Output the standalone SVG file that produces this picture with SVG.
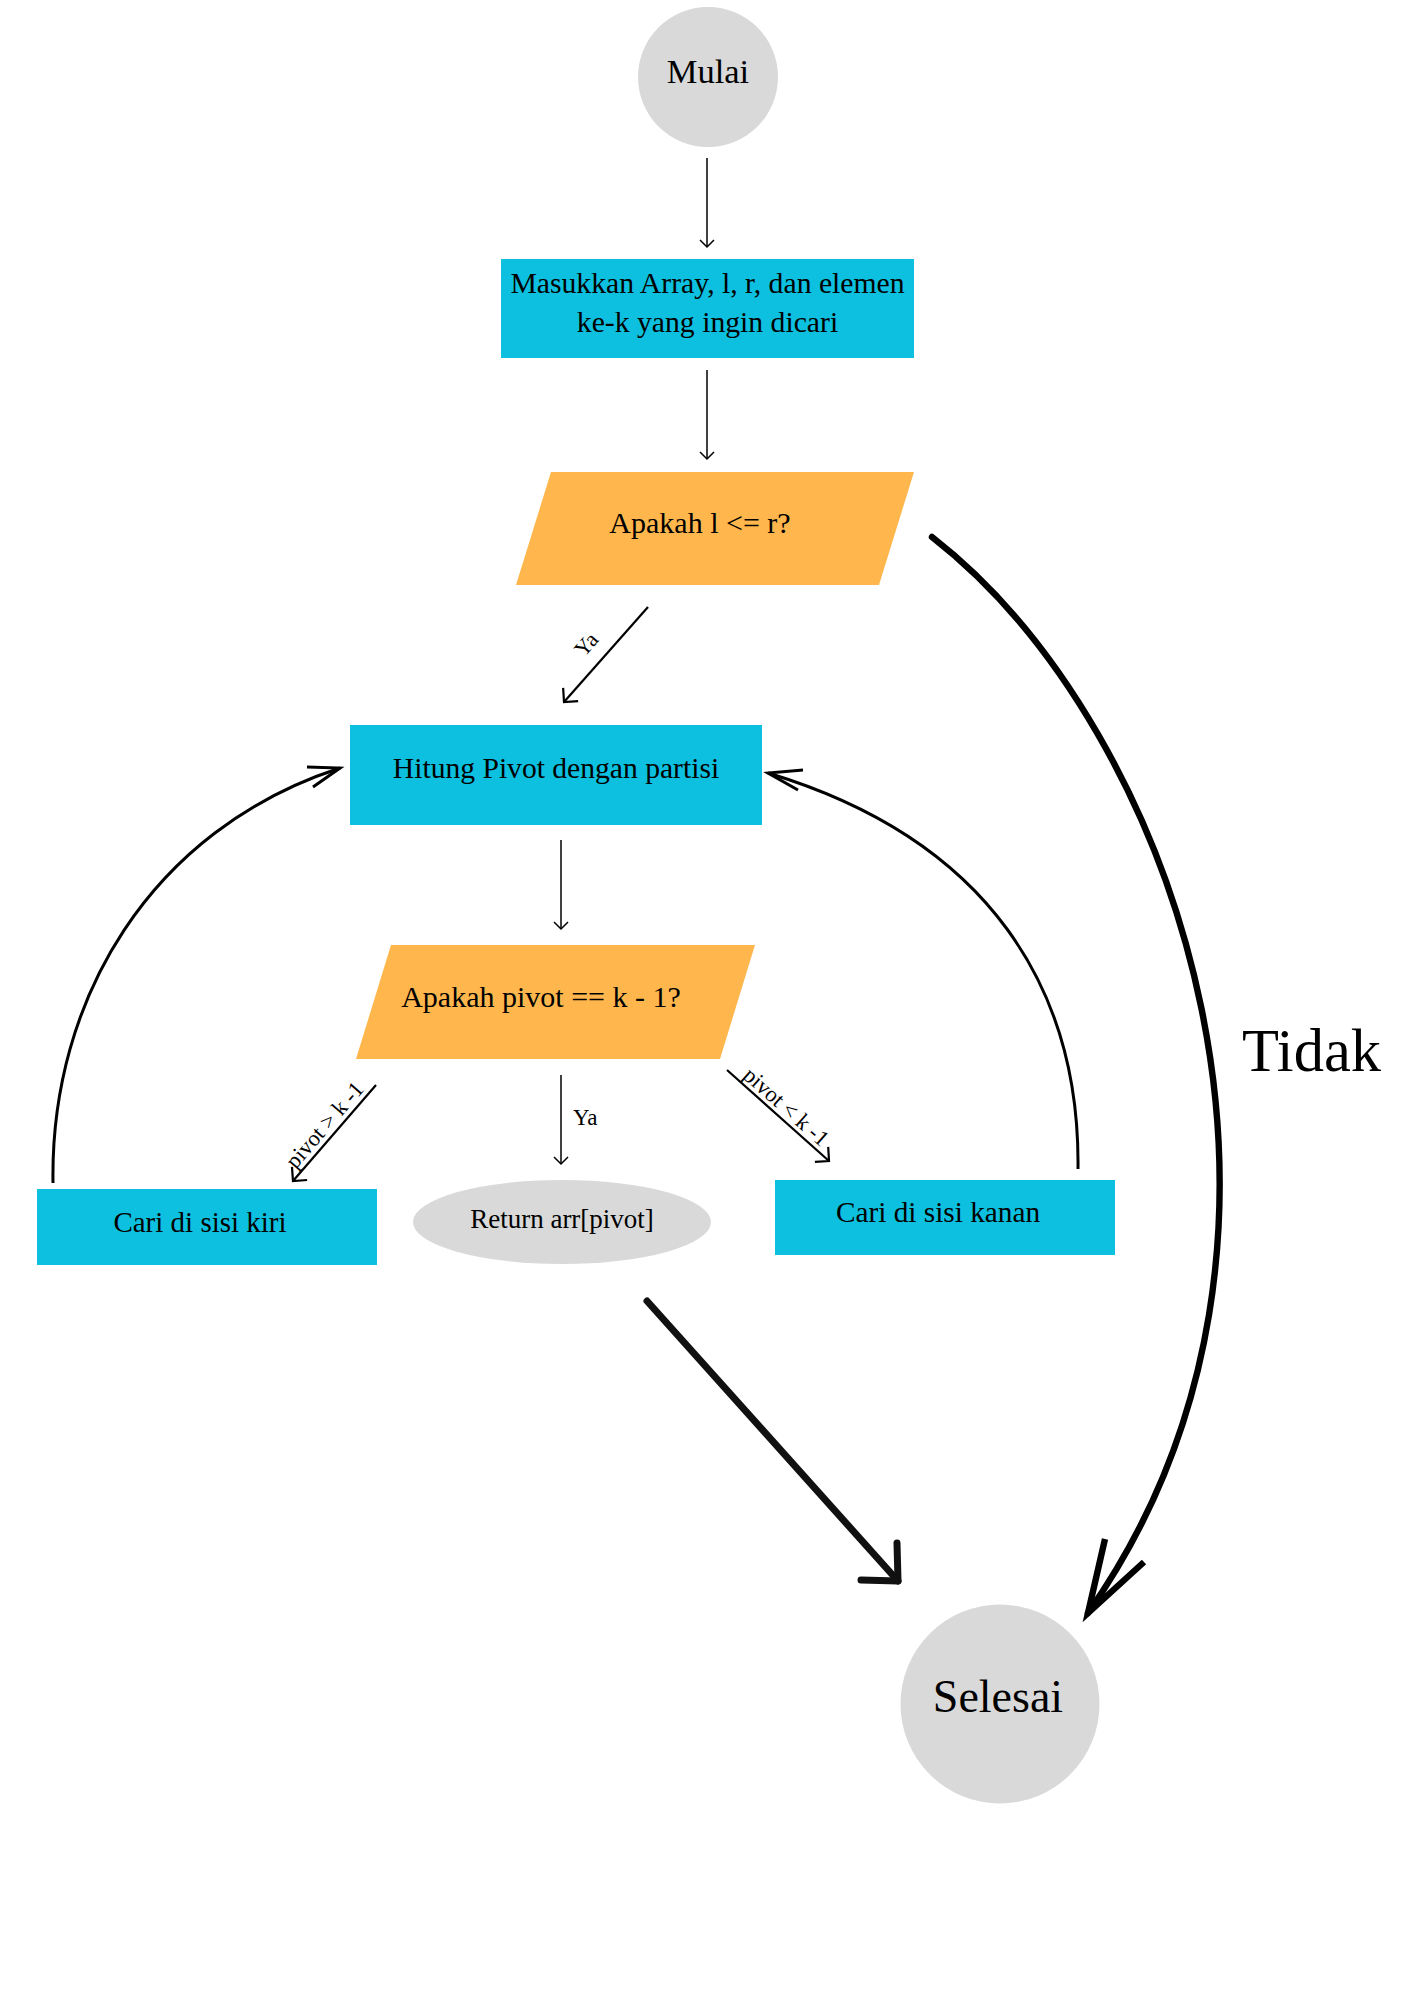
<svg xmlns="http://www.w3.org/2000/svg" width="1414" height="2000" viewBox="0 0 1414 2000">
<defs>
<style>
.t{font-family:"Liberation Serif","Times New Roman",serif;fill:#000;}
.c{text-anchor:middle;}
.box{fill:#0DC0DF;}
.dec{fill:#FFB74D;}
.term{fill:#D9D9D9;}
.thin{stroke:#000;stroke-width:1.5;fill:none;}
.med{stroke:#000;stroke-width:2.2;fill:none;}
.curve{stroke:#000;stroke-width:3;fill:none;}
.thick{stroke:#000;stroke-width:6.4;fill:none;}
.bold{stroke:#111;stroke-width:7;fill:none;stroke-linecap:round;stroke-linejoin:round;}
</style>
<marker id="ahThin" markerUnits="userSpaceOnUse" viewBox="-10 -10 20 20" refX="0" refY="0" markerWidth="20" markerHeight="20" orient="auto">
<path d="M-7,-7 L0,0 L-7,7" fill="none" stroke="#000" stroke-width="1.5"/>
</marker>
<marker id="ahMed" markerUnits="userSpaceOnUse" viewBox="-14 -14 28 28" refX="0" refY="0" markerWidth="28" markerHeight="28" orient="auto">
<path d="M-10,-10 L0,0 L-10,10" fill="none" stroke="#000" stroke-width="2.2"/>
</marker>
</defs>
<rect width="1414" height="2000" fill="#fff"/>

<g id="connectors">
<line class="thin" x1="707" y1="158" x2="707" y2="247" marker-end="url(#ahThin)"/>
<line class="thin" x1="707" y1="370" x2="707" y2="459" marker-end="url(#ahThin)"/>
<line class="med" x1="648" y1="607" x2="564" y2="702" marker-end="url(#ahMed)"/>
<line class="thin" x1="561" y1="840" x2="561" y2="929" marker-end="url(#ahThin)"/>
<line class="thin" x1="561" y1="1075" x2="561" y2="1164" marker-end="url(#ahThin)"/>
<line class="med" x1="376" y1="1085" x2="293" y2="1181" marker-end="url(#ahMed)"/>
<line class="med" x1="727" y1="1070" x2="829" y2="1161" marker-end="url(#ahMed)"/>
<path class="curve" d="M53,1183 C50,1000 150,830 340,768"/>
<polyline class="curve" points="307,767 340,768 313,787"/>
<path class="curve" d="M1078,1169 C1080,990 990,840 768,773"/>
<polyline class="curve" points="803,770 768,773 798,790"/>
<path class="thick" stroke-linecap="round" d="M932,537 C1180,730 1350,1240 1088,1613"/>
<polyline class="thick" stroke-linejoin="miter" stroke-miterlimit="10" points="1105,1539 1088,1613 1144,1562"/>
<line class="bold" x1="647" y1="1301" x2="898" y2="1581"/>
<polyline class="bold" points="897,1543 898,1581 861,1580"/>
<text class="t c" font-size="22" transform="translate(605.5,654.7) rotate(-48.7)" x="-5" y="-14">Ya</text>
<text class="t" font-size="23" x="573" y="1125">Ya</text>
<text class="t c" font-size="22.5" transform="translate(334,1133) rotate(-49)" x="0" y="-5">pivot &gt; k -1</text>
<text class="t c" font-size="22.5" transform="translate(778,1116) rotate(41.6)" x="0" y="-5">pivot &lt; k -1</text>
<text class="t" font-size="60.5" x="1242" y="1071">Tidak</text>
</g>

<g id="mulai">
<circle class="term" cx="708" cy="77" r="70"/>
<text class="t c" font-size="34.5" x="708" y="83">Mulai</text>
</g>

<g id="input">
<rect class="box" x="501" y="259" width="413" height="99"/>
<text class="t c" font-size="29.7" x="707.5" y="293">Masukkan Array, l, r, dan elemen</text>
<text class="t c" font-size="29.7" x="707.5" y="332">ke-k yang ingin dicari</text>
</g>

<g id="cek-lr">
<polygon class="dec" points="551,472 914,472 879,585 516,585"/>
<text class="t c" font-size="30" x="700" y="533">Apakah l &lt;= r?</text>
</g>

<g id="hitung-pivot">
<rect class="box" x="350" y="725" width="412" height="100"/>
<text class="t c" font-size="29.6" x="556" y="778">Hitung Pivot dengan partisi</text>
</g>

<g id="cek-pivot">
<polygon class="dec" points="391,945 755,945 720,1059 356,1059"/>
<text class="t c" font-size="30" x="541" y="1007">Apakah pivot == k - 1?</text>
</g>

<g id="cari-kiri">
<rect class="box" x="37" y="1189" width="340" height="76"/>
<text class="t c" font-size="29" x="200" y="1232">Cari di sisi kiri</text>
</g>

<g id="return">
<ellipse class="term" cx="562" cy="1222" rx="149" ry="42"/>
<text class="t c" font-size="27" x="562" y="1228">Return arr[pivot]</text>
</g>

<g id="cari-kanan">
<rect class="box" x="775" y="1180" width="340" height="75"/>
<text class="t c" font-size="29.3" x="938" y="1222">Cari di sisi kanan</text>
</g>

<g id="selesai">
<circle class="term" cx="1000" cy="1704" r="99.5"/>
<text class="t c" font-size="46" x="998" y="1712">Selesai</text>
</g>
</svg>
